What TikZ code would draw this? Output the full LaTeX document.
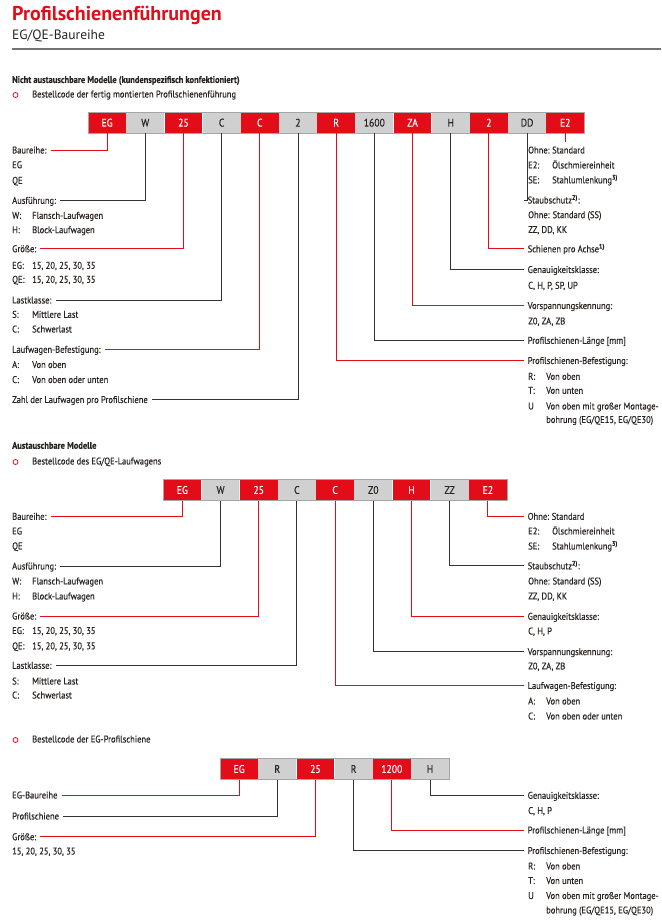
\documentclass[tikz,border=0pt]{standalone}
\usepackage{fontspec}
\setmainfont[FakeStretch=0.88, FakeBold=0.4]{PT Sans}
\newfontfamily\titelfont{PT Sans}
\usetikzlibrary{positioning}

\definecolor{hiwinrot}{HTML}{E30D1A}
\definecolor{zellgrau}{HTML}{D0D0D0}
\definecolor{textgrau}{HTML}{2A2420}

% Eintrag mit fester Spaltenbreite fuer Kuerzel
\newcommand{\wert}[3]{\makebox[#1][l]{#2}#3}

\begin{document}
\begin{tikzpicture}[
		x=1pt, y=-1pt,
		% Stile fuer die Bestellcode-Leisten
		rotzelle/.style = {fill=hiwinrot, text=white, minimum width=37.78pt, minimum height=21pt, inner sep=0pt, font=\fontsize{11}{13}\selectfont},
		grauzelle/.style = {rotzelle, fill=zellgrau, text=textgrau},
		rahmen/.style = {draw=black!35, line width=0.5pt},
		kopf/.style = {anchor=west, inner xsep=4pt, inner ysep=0pt, text height=6.9pt, text depth=0pt, text=textgrau, font=\fontsize{9.7}{12}\selectfont},
		eintrag/.style = {kopf, inner xsep=0pt},
		abschnitt/.style = {eintrag, font=\bfseries\fontsize{9.6}{12}\selectfont},
		punkt/.style = {draw=hiwinrot, line width=0.8pt, circle, inner sep=0pt, minimum size=5pt},
		rotlinie/.style = {draw=hiwinrot, line width=0.9pt},
		graulinie/.style = {draw=black!80, line width=0.9pt}
		]
		\useasboundingbox (0,0) rectangle (661,923);
		
		% --- KOPF ---
		\node [anchor=base west, inner sep=0pt, text=hiwinrot, font=\titelfont\bfseries\fontsize{20}{24}\selectfont] (titel) at (12,20.5) {Profilschienenführungen};
		\node [anchor=base west, inner sep=0pt, text=textgrau, font=\titelfont\fontsize{13.5}{15}\selectfont] (untertitel) at (12,39.5) {EG/QE-Baureihe};
		\draw [black!55, line width=1.2pt] (12,49) -- (661,49);
		
		% --- NICHT AUSTAUSCHBARE MODELLE ---
		\node [abschnitt] (sec_eins) at (12,79.5) {Nicht austauschbare Modelle (kundenspezifisch konfektioniert)};
		\node [punkt] (p_eins) at (15.5,95) {};
		\node [eintrag] (p_eins_txt) at (32,94) {Bestellcode der fertig montierten Profilschienenführung};
		
		% Leiste
		\node [rotzelle, anchor=north west] (m_eg) at (88,112) {EG};
		\node [grauzelle, right=0pt of m_eg] (m_typ) {W};
		\node [rotzelle, right=0pt of m_typ] (m_gr) {25};
		\node [grauzelle, right=0pt of m_gr] (m_last) {C};
		\node [rotzelle, right=0pt of m_last] (m_bef) {C};
		\node [grauzelle, right=0pt of m_bef] (m_zahl) {2};
		\node [rotzelle, right=0pt of m_zahl] (m_sbef) {R};
		\node [grauzelle, right=0pt of m_sbef] (m_len) {1600};
		\node [rotzelle, right=0pt of m_len] (m_vor) {ZA};
		\node [grauzelle, right=0pt of m_vor] (m_gen) {H};
		\node [rotzelle, right=0pt of m_gen] (m_achse) {2};
		\node [grauzelle, right=0pt of m_achse] (m_staub) {DD};
		\node [rotzelle, right=0pt of m_staub] (m_schm) {E2};
		\draw [rahmen] (m_eg.north west) rectangle (m_schm.south east);
		
		% Links
		\node [kopf] (l_baureihe) at (8,150) {Baureihe:};
		\node [eintrag] (l_baureihe_1) at (12,164.7) {EG};
		\node [eintrag] (l_baureihe_2) at (12,180.3) {QE};
		\node [kopf] (l_ausf) at (8,200.3) {Ausführung:};
		\node [eintrag] (l_ausf_1) at (12,215.3) {\wert{20pt}{W:}{Flansch-Laufwagen}};
		\node [eintrag] (l_ausf_2) at (12,229.7) {\wert{20pt}{H:}{Block-Laufwagen}};
		\node [kopf] (l_groesse) at (8,248.7) {Größe:};
		\node [eintrag] (l_groesse_1) at (12,265.3) {\wert{20pt}{EG:}{15, 20, 25, 30, 35}};
		\node [eintrag] (l_groesse_2) at (12,279.3) {\wert{20pt}{QE:}{15, 20, 25, 30, 35}};
		\node [kopf] (l_last) at (8,300) {Lastklasse:};
		\node [eintrag] (l_last_1) at (12,314.3) {\wert{20pt}{S:}{Mittlere Last}};
		\node [eintrag] (l_last_2) at (12,329) {\wert{20pt}{C:}{Schwerlast}};
		\node [kopf] (l_lwbef) at (8,349.3) {Laufwagen-Befestigung:};
		\node [eintrag] (l_lwbef_1) at (12,364.5) {\wert{20pt}{A:}{Von oben}};
		\node [eintrag] (l_lwbef_2) at (12,379.5) {\wert{20pt}{C:}{Von oben oder unten}};
		\node [kopf] (l_zahl) at (8,399.5) {Zahl der Laufwagen pro Profilschiene};
		
		% Rechts
		\node [eintrag] (r_schm_1) at (528,150) {\wert{24pt}{Ohne:}{Standard}};
		\node [eintrag] (r_schm_2) at (528,165) {\wert{24pt}{E2:}{Ölschmiereinheit}};
		\node [eintrag] (r_schm_3) at (528,179.8) {\wert{24pt}{SE:}{Stahlumlenkung\textsuperscript{\bfseries 3)}}};
		\node [kopf] (r_staub) at (523.5,200) {Staubschutz\textsuperscript{\bfseries 2)}:};
		\node [eintrag] (r_staub_1) at (528,214.7) {Ohne: Standard (SS)};
		\node [eintrag] (r_staub_2) at (528,229.5) {ZZ, DD, KK};
		\node [kopf] (r_achse) at (523.5,248.8) {Schienen pro Achse\textsuperscript{\bfseries 1)}};
		\node [kopf] (r_gen) at (523.5,269.5) {Genauigkeitsklasse:};
		\node [eintrag] (r_gen_1) at (528,285.3) {C, H, P, SP, UP};
		\node [kopf] (r_vor) at (523.5,305.5) {Vorspannungskennung:};
		\node [eintrag] (r_vor_1) at (528,321) {Z0, ZA, ZB};
		\node [kopf] (r_len) at (523.5,340.3) {Profilschienen-Länge [mm]};
		\node [kopf] (r_sbef) at (523.5,360.5) {Profilschienen-Befestigung:};
		\node [eintrag] (r_sbef_1) at (528,376.3) {\wert{18pt}{R:}{Von oben}};
		\node [eintrag] (r_sbef_2) at (528,390.3) {\wert{18pt}{T:}{Von unten}};
		\node [eintrag] (r_sbef_3) at (528,406) {\wert{18pt}{U}{Von oben mit großer Montage-}};
		\node [eintrag] (r_sbef_4) at (546,419.5) {bohrung (EG/QE15, EG/QE30)};
		
		% Verbindungen
		\draw [rotlinie] (m_eg.south) |- (l_baureihe.east);
		\draw [graulinie] (m_typ.south) |- (l_ausf.east);
		\draw [rotlinie] (m_gr.south) |- (l_groesse.east);
		\draw [graulinie] (m_last.south) |- (l_last.east);
		\draw [rotlinie] (m_bef.south) |- (l_lwbef.east);
		\draw [graulinie] (m_zahl.south) |- (l_zahl.east);
		\draw [rotlinie] (m_sbef.south) |- (r_sbef.west);
		\draw [graulinie] (m_len.south) |- (r_len.west);
		\draw [rotlinie] (m_vor.south) |- (r_vor.west);
		\draw [graulinie] (m_gen.south) |- (r_gen.west);
		\draw [rotlinie] (m_achse.south) |- (r_achse.west);
		\draw [graulinie] (m_staub.south) |- (r_staub.west);
		\coordinate (m_schm_end) at (m_schm.south |- 0,142);
		\draw [rotlinie] (m_schm.south) -- (m_schm_end);
		
		% --- AUSTAUSCHBARE MODELLE ---
		\node [abschnitt] (sec_zwei) at (12,445.3) {Austauschbare Modelle};
		\node [punkt] (p_zwei) at (15.5,462) {};
		\node [eintrag] (p_zwei_txt) at (32,461) {Bestellcode des EG/QE-Laufwagens};
		
		% Leiste
		\node [rotzelle, anchor=north west] (w_eg) at (163.3,479.3) {EG};
		\node [grauzelle, right=0pt of w_eg] (w_typ) {W};
		\node [rotzelle, right=0pt of w_typ] (w_gr) {25};
		\node [grauzelle, right=0pt of w_gr] (w_last) {C};
		\node [rotzelle, right=0pt of w_last] (w_bef) {C};
		\node [grauzelle, right=0pt of w_bef] (w_vor) {Z0};
		\node [rotzelle, right=0pt of w_vor] (w_gen) {H};
		\node [grauzelle, right=0pt of w_gen] (w_staub) {ZZ};
		\node [rotzelle, right=0pt of w_staub] (w_schm) {E2};
		\draw [rahmen] (w_eg.north west) rectangle (w_schm.south east);
		
		% Links
		\node [kopf] (lw_baureihe) at (8,516.3) {Baureihe:};
		\node [eintrag] (lw_baureihe_1) at (12,531) {EG};
		\node [eintrag] (lw_baureihe_2) at (12,545.8) {QE};
		\node [kopf] (lw_ausf) at (8,566) {Ausführung:};
		\node [eintrag] (lw_ausf_1) at (12,581) {\wert{20pt}{W:}{Flansch-Laufwagen}};
		\node [eintrag] (lw_ausf_2) at (12,596) {\wert{20pt}{H:}{Block-Laufwagen}};
		\node [kopf] (lw_groesse) at (8,616) {Größe:};
		\node [eintrag] (lw_groesse_1) at (12,630.5) {\wert{20pt}{EG:}{15, 20, 25, 30, 35}};
		\node [eintrag] (lw_groesse_2) at (12,645.8) {\wert{20pt}{QE:}{15, 20, 25, 30, 35}};
		\node [kopf] (lw_last) at (8,665.3) {Lastklasse:};
		\node [eintrag] (lw_last_1) at (12,681) {\wert{20pt}{S:}{Mittlere Last}};
		\node [eintrag] (lw_last_2) at (12,695) {\wert{20pt}{C:}{Schwerlast}};
		
		% Rechts
		\node [kopf] (rw_schm) at (523.5,516.3) {\wert{24pt}{Ohne:}{Standard}};
		\node [eintrag] (rw_schm_1) at (528,531) {\wert{24pt}{E2:}{Ölschmiereinheit}};
		\node [eintrag] (rw_schm_2) at (528,546) {\wert{24pt}{SE:}{Stahlumlenkung\textsuperscript{\bfseries 3)}}};
		\node [kopf] (rw_staub) at (523.5,565.8) {Staubschutz\textsuperscript{\bfseries 2)}:};
		\node [eintrag] (rw_staub_1) at (528,581) {Ohne: Standard (SS)};
		\node [eintrag] (rw_staub_2) at (528,596) {ZZ, DD, KK};
		\node [kopf] (rw_gen) at (523.5,616.3) {Genauigkeitsklasse:};
		\node [eintrag] (rw_gen_1) at (528,631) {C, H, P};
		\node [kopf] (rw_vor) at (523.5,651.6) {Vorspannungskennung:};
		\node [eintrag] (rw_vor_1) at (528,666) {Z0, ZA, ZB};
		\node [kopf] (rw_bef) at (523.5,685.5) {Laufwagen-Befestigung:};
		\node [eintrag] (rw_bef_1) at (528,701) {\wert{18pt}{A:}{Von oben}};
		\node [eintrag] (rw_bef_2) at (528,716) {\wert{18pt}{C:}{Von oben oder unten}};
		
		% Verbindungen
		\draw [rotlinie] (w_eg.south) |- (lw_baureihe.east);
		\draw [graulinie] (w_typ.south) |- (lw_ausf.east);
		\draw [rotlinie] (w_gr.south) |- (lw_groesse.east);
		\draw [graulinie] (w_last.south) |- (lw_last.east);
		\draw [rotlinie] (w_bef.south) |- (rw_bef.west);
		\draw [graulinie] (w_vor.south) |- (rw_vor.west);
		\draw [rotlinie] (w_gen.south) |- (rw_gen.west);
		\draw [graulinie] (w_staub.south) |- (rw_staub.west);
		\draw [rotlinie] (w_schm.south) |- (rw_schm.west);
		
		% --- EG-PROFILSCHIENE ---
		\node [punkt] (p_drei) at (15.5,740) {};
		\node [eintrag] (p_drei_txt) at (32,739) {Bestellcode der EG-Profilschiene};
		
		% Leiste
		\node [rotzelle, anchor=north west] (s_eg) at (220,758.3) {EG};
		\node [grauzelle, right=0pt of s_eg] (s_typ) {R};
		\node [rotzelle, right=0pt of s_typ] (s_gr) {25};
		\node [grauzelle, right=0pt of s_gr] (s_sbef) {R};
		\node [rotzelle, right=0pt of s_sbef] (s_len) {1200};
		\node [grauzelle, right=0pt of s_len] (s_gen) {H};
		\draw [rahmen] (s_eg.north west) rectangle (s_gen.south east);
		
		% Links
		\node [kopf] (ls_baureihe) at (8,795) {EG-Baureihe};
		\node [kopf] (ls_typ) at (8,816) {Profilschiene};
		\node [kopf] (ls_groesse) at (8,836.7) {Größe:};
		\node [eintrag] (ls_groesse_1) at (12,851) {15, 20, 25, 30, 35};
		
		% Rechts
		\node [kopf] (rs_gen) at (523.5,795.3) {Genauigkeitsklasse:};
		\node [eintrag] (rs_gen_1) at (528,810.5) {C, H, P};
		\node [kopf] (rs_len) at (523.5,830) {Profilschienen-Länge [mm]};
		\node [kopf] (rs_sbef) at (523.5,850.5) {Profilschienen-Befestigung:};
		\node [eintrag] (rs_sbef_1) at (528,866) {\wert{18pt}{R:}{Von oben}};
		\node [eintrag] (rs_sbef_2) at (528,880.5) {\wert{18pt}{T:}{Von unten}};
		\node [eintrag] (rs_sbef_3) at (528,895.5) {\wert{18pt}{U}{Von oben mit großer Montage-}};
		\node [eintrag] (rs_sbef_4) at (546,910) {bohrung (EG/QE15, EG/QE30)};
		
		% Verbindungen
		\draw [rotlinie] (s_eg.south) |- (ls_baureihe.east);
		\draw [graulinie] (s_typ.south) |- (ls_typ.east);
		\draw [rotlinie] (s_gr.south) |- (ls_groesse.east);
		\draw [graulinie] (s_sbef.south) |- (rs_sbef.west);
		\draw [rotlinie] (s_len.south) |- (rs_len.west);
		\draw [graulinie] (s_gen.south) |- (rs_gen.west);
		
	\end{tikzpicture}
\end{document}
